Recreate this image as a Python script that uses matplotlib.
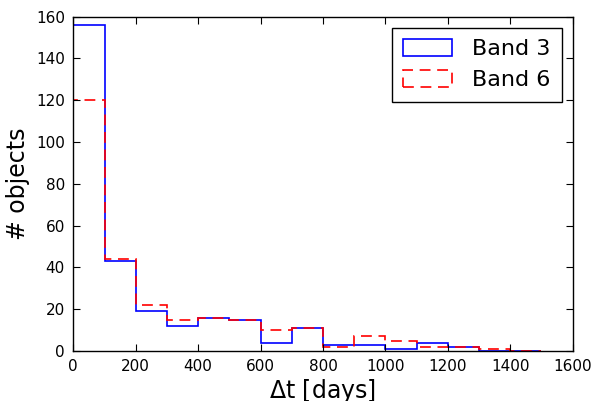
import matplotlib
matplotlib.use("Agg")
import matplotlib.pyplot as plt
from matplotlib.patches import Patch
import numpy as np

bin_edges = [0, 100, 200, 300, 400, 500, 600, 700, 800, 900, 1000, 1100, 1200, 1300, 1400, 1500]
band3 = [156, 43, 19, 12, 16, 15, 4, 11, 3, 3, 1, 4, 2, 0, 0]
band6 = [120, 44, 22, 15, 16, 15, 10, 11, 2, 7, 5, 2, 2, 1, 0]

plt.rcParams['font.family'] = ['DejaVu Sans']
fig = plt.figure(figsize=(5.92, 4.01), dpi=100)
ax = fig.add_axes([73.3/592, 50/401, (572.7-73.3)/592, (351-16.7)/401])

dash = (0, (6.5, 4))
ax.stairs(band3, bin_edges, color='blue', linewidth=1.2)
ax.stairs(band6, bin_edges, color='red', linewidth=1.2, linestyle=dash)

ax.set_xlim(0, 1600)
ax.set_ylim(0, 160)
ax.set_xticks(np.arange(0, 1601, 200))
ax.set_yticks(np.arange(0, 161, 20))
ax.tick_params(direction='in', top=True, right=True, labelsize=11, length=5, pad=6)
for s in ax.spines.values():
    s.set_linewidth(1.0)
ax.set_xlabel(r'$\Delta$t [days]', fontsize=17, labelpad=2)
ax.set_ylabel('# objects', fontsize=17)

handles = [Patch(facecolor='none', edgecolor='blue', linewidth=1.2, label='Band 3'),
           Patch(facecolor='none', edgecolor='red', linewidth=1.2, linestyle=dash, label='Band 6')]
leg = ax.legend(handles=handles, loc='upper right', fontsize=16, fancybox=False, framealpha=1,
                edgecolor='black', handlelength=2.2, handleheight=0.8, handletextpad=0.9,
                borderpad=0.5, labelspacing=0.5)
leg.get_frame().set_linewidth(1.0)

fig.savefig('out.png', dpi=100)
